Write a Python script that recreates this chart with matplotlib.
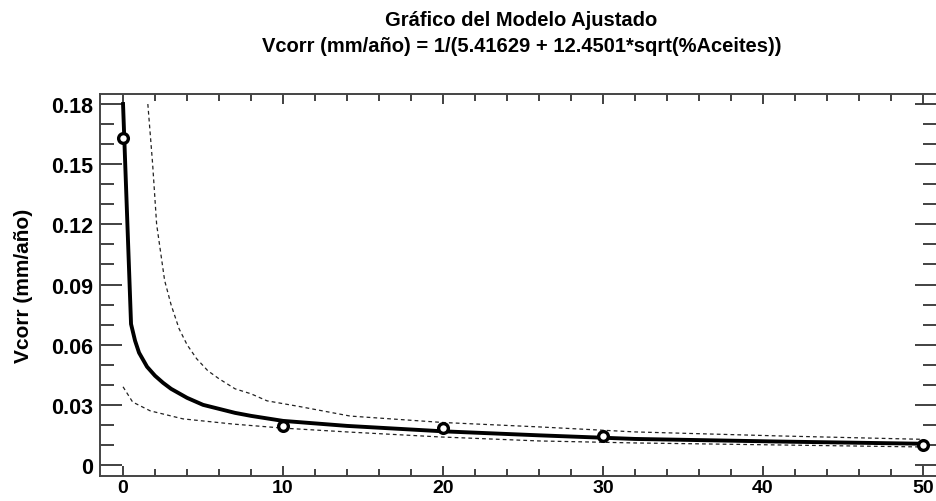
"""Fitted model plot: Vcorr vs %Aceites with prediction limits."""
import matplotlib
matplotlib.use("Agg")
import matplotlib.pyplot as plt
from matplotlib.ticker import MultipleLocator, FuncFormatter

plt.rcParams["font.family"] = ["Liberation Sans", "DejaVu Sans"]
plt.rcParams["font.weight"] = "bold"

# observed points
obs_x = [0, 10, 20, 30, 50]
obs_y = [0.163, 0.0197, 0.0183, 0.0145, 0.0100]

# fitted curve
fit_x = [0, 0.5, 0.75, 1, 1.5, 2, 2.5, 3, 4, 5, 6, 7, 8, 10, 14, 20, 26, 32,
         41, 50]
fit_y = [0.180, 0.0703, 0.062, 0.056, 0.049, 0.0445, 0.041, 0.038, 0.0335,
         0.030, 0.028, 0.026, 0.0245, 0.022, 0.0195, 0.0168, 0.0148, 0.0130,
         0.0117, 0.0106]

# upper and lower limits (dashed)
up_x = [1.55, 1.85, 2.1, 2.6, 3.0, 3.5, 4.0, 4.6, 5.3, 6.0, 7.0, 8.0, 9.0,
        11, 14.2, 20, 26, 32, 41, 50]
up_y = [0.180, 0.150, 0.120, 0.092, 0.080, 0.068, 0.060, 0.053, 0.047, 0.043,
        0.038, 0.0355, 0.032, 0.0292, 0.0244, 0.0212, 0.0190, 0.0165, 0.0145,
        0.0128]
lo_x = [0, 0.6, 1.7, 3.75, 6.9, 10, 14.2, 19.8, 26, 32, 41, 50]
lo_y = [0.039, 0.0314, 0.027, 0.023, 0.0204, 0.0184, 0.0164, 0.014, 0.012,
        0.011, 0.0100, 0.0090]

fig = plt.figure(figsize=(9.36, 5.02), dpi=100)
ax = fig.add_axes([100 / 936, 25 / 502, 837 / 936, 382 / 502])

ax.plot(fit_x, fit_y, color="black", lw=2.8, solid_joinstyle="round", zorder=3)
ax.plot(up_x, up_y, color="#222222", lw=0.9, dashes=(3, 2.5))
ax.plot(lo_x, lo_y, color="#222222", lw=0.9, dashes=(3, 2.5))
ax.plot(obs_x, obs_y, "o", ms=7, mfc="white", mec="black", mew=2.4, zorder=4)

ax.set_xlim(-1.44, 50.875)
ax.set_ylim(-0.00548, 0.185)
ax.xaxis.set_major_locator(MultipleLocator(10))
ax.xaxis.set_minor_locator(MultipleLocator(2))
ax.yaxis.set_major_locator(MultipleLocator(0.03))
ax.yaxis.set_minor_locator(MultipleLocator(0.01))
ax.yaxis.set_major_formatter(FuncFormatter(lambda v, p: "0" if abs(v) < 1e-9 else f"{v:.2f}"))

ax.tick_params(which="both", direction="in", top=True, right=True,
               color="#333333", width=1.3, labelsize=15.5, pad=5)
ax.tick_params(axis="y", which="major", length=16)
ax.tick_params(axis="y", which="minor", length=10)
ax.tick_params(axis="x", which="major", length=7, labelsize=14, pad=2)
ax.tick_params(axis="x", which="minor", length=5)
for s in ax.spines.values():
    s.set_color("#444444")
    s.set_linewidth(1.4)

ax.set_ylabel("Vcorr (mm/año)", fontsize=15, fontweight="bold")
ax.yaxis.set_label_coords(-67 / 837, 0.5)
fig.text(0.557, 1 - 20 / 502, "Gráfico del Modelo Ajustado", ha="center",
         va="center", fontsize=14.5, fontweight="bold")
fig.text(0.557, 1 - 47 / 502,
         "Vcorr (mm/año) = 1/(5.41629 + 12.4501*sqrt(%Aceites))",
         ha="center", va="center", fontsize=14.5, fontweight="bold")

fig.savefig("out.png", dpi=100)
